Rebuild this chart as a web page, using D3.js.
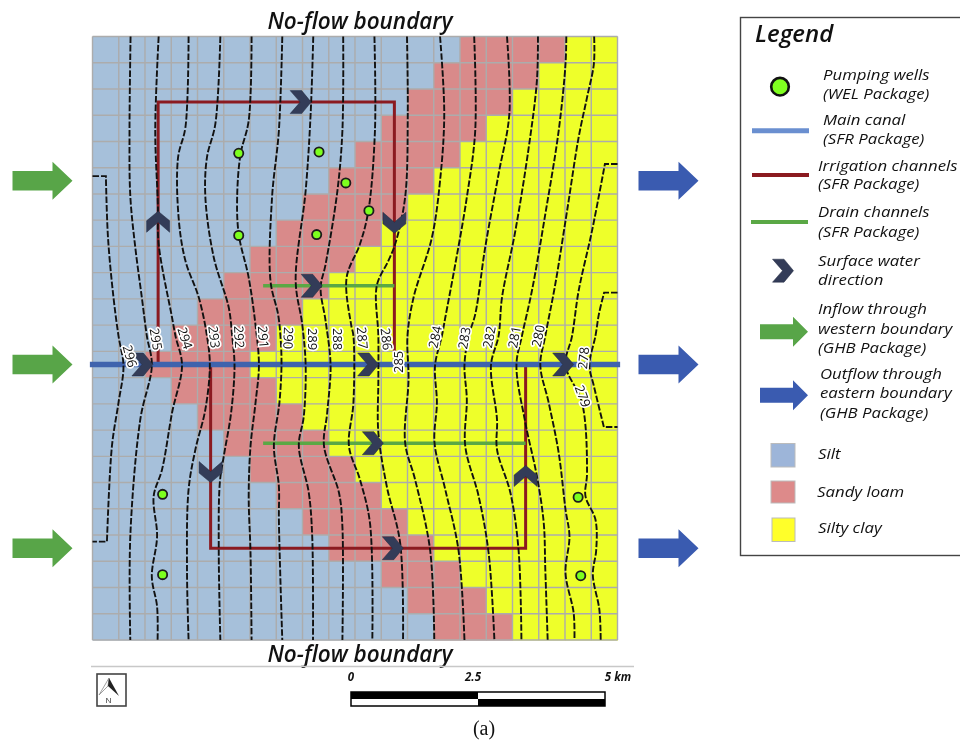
<!DOCTYPE html>
<html>
<head>
<meta charset="utf-8">
<script src="https://cdn.jsdelivr.net/npm/d3@7"></script>
<style>
html,body{margin:0;padding:0;background:#fff;}
svg{display:block;filter:blur(0.4px);}
text{font-family:"Open Sans",sans-serif;}
</style>
</head>
<body>
<svg id="chart" width="960" height="740"></svg>
<script>
// ---- data: grid units (column, row) of the model grid ----
const nCols = 20, nRows = 23;
// per row: first column that is no longer silt, first column that is silty clay
const siltEnd = [14,13,12,11,10,9,8,7,6,5,4,3,2,3,4,5,6,7,8,9,11,12,13];
const loamEnd = [18,17,16,15,14,13,12,11,10,9,8,7,6,7,8,9,10,11,12,13,14,15,16];

const levels = [296,295,294,293,292,291,290,289,288,287,286,285,284,283,282,281,280,279,278];
const c296 = [[0,5.32],[0.51,5.32],[0.59,7.66],[0.80,9.95],[0.99,11.41],[1.18,12.56],[0.99,13.96],[0.74,15.61],[0.55,19.25],[0,19.25]];
const c295 = [[1.45,0],[1.41,3.59],[1.44,6.08],[1.63,8.04],[1.88,9.95],[2.07,11.41],[2.26,12.53],[1.82,14.6],[1.44,19.05],[1.44,23]];
const c294 = [[2.52,0],[2.39,3.59],[2.49,6.39],[2.52,7.91],[3.03,10.71],[3.16,11.41],[3.41,12.53],[3.03,14.34],[2.65,16.5],[2.33,17.52],[2.46,19.05],[2.26,20.58],[2.46,21.72],[2.48,23]];
const c293 = [[3.66,0],[3.54,3.46],[3.26,4.61],[3.28,6.9],[3.54,8.55],[4.05,9.95],[4.36,11.41],[4.47,12.53],[4.3,14.21],[3.92,15.74],[3.66,17.27],[3.6,20.32],[3.66,23]];
const c292 = [[4.87,0],[4.68,3.33],[4.36,4.61],[4.3,6.13],[4.62,8.42],[5.19,10.33],[5.32,11.41],[5.41,12.53],[5.28,14.34],[5.0,16.0],[4.85,17.01],[4.81,19.68],[4.87,23]];
const c291 = [[6.06,0],[5.95,3.21],[5.64,4.48],[5.51,6.13],[5.57,7.53],[5.95,9.19],[6.21,11.0],[6.34,12.53],[6.21,13.96],[6.02,15.61],[5.95,17.52],[6.02,19.68],[6.06,23]];
const c290 = [[7.23,0],[7.1,3.59],[6.84,6.13],[6.78,9.31],[7.07,10.59],[7.16,11.41],[7.2,12.53],[7.12,13.96],[6.91,15.61],[7.1,17.14],[7.1,18.41],[7.23,23]];
const c289 = [[8.41,0],[8.31,2.95],[8.12,5.88],[7.74,9.31],[7.99,10.97],[8.12,12.53],[8.05,14.47],[7.86,15.61],[8.24,17.39],[8.37,19.05],[8.4,23]];
const c288 = [[9.55,0],[9.52,3.59],[9.33,5.88],[8.88,8.68],[8.69,9.57],[8.88,10.84],[9.07,12.53],[8.94,14.34],[8.82,15.61],[9.39,17.39],[9.52,18.67],[9.52,23]];
const c287 = [[10.74,0],[10.76,3.59],[10.51,6.64],[10.19,7.91],[9.68,9.19],[9.85,10.97],[9.94,11.41],[9.94,13.96],[9.77,15.61],[10.19,16.89],[10.57,18.54],[10.66,23]];
const c286 = [[11.98,0],[12.01,2.95],[11.91,6.13],[11.53,7.91],[11.27,8.55],[10.83,9.5],[10.89,11.41],[10.89,13.07],[10.89,15.1],[11.21,17.14],[11.72,19.3],[11.83,23]];
const c285 = [[13.24,0],[13.4,2.95],[13.24,5.5],[12.93,7.66],[12.23,9.95],[12.0,11.41],[12.04,13.07],[11.91,15.48],[12.29,16.89],[12.86,19.56],[13.02,23]];
const c284 = [[14.54,0],[14.58,3.59],[14.26,6.13],[13.82,8.68],[13.44,10.71],[13.31,11.41],[13.05,12.53],[13.12,13.96],[13.03,15.49],[13.44,17.27],[13.94,19.56],[14.17,23]];
const c283 = [[15.79,0],[15.88,2.95],[15.47,5.24],[14.96,8.04],[14.58,10.59],[14.33,11.41],[14.17,12.53],[14.26,13.83],[14.2,15.61],[14.71,17.52],[15.09,19.68],[15.31,23]];
const c282 = [[16.97,0],[16.93,1.68],[16.62,4.22],[16.11,7.4],[15.6,9.95],[15.47,11.41],[15.18,12.53],[15.41,14.6],[15.41,15.74],[15.92,17.39],[16.23,19.56],[16.34,23]];
const c281 = [[18.05,0],[18.02,1.04],[17.76,3.59],[17.25,6.77],[16.74,9.69],[16.36,11.41],[16.15,12.53],[16.49,14.72],[16.93,16.76],[17.19,18.54],[17.25,20.32],[17.34,23]];
const c280 = [[19.11,0],[19.1,1.04],[18.84,2.32],[18.52,3.84],[18.08,6.64],[17.63,9.44],[17.25,11.41],[17.06,12.53],[17.38,13.96],[17.76,15.87],[18.02,18.03],[18.17,19.05],[18.02,20.45],[18.33,21.97],[18.36,23]];
const c279 = [[20,4.86],[19.52,4.86],[19.03,7.4],[18.52,9.69],[18.27,11.41],[18.02,12.53],[18.65,13.96],[18.84,16.63],[18.78,17.52],[19.16,18.41],[19.19,19.56],[19.06,20.51],[19.31,21.85],[19.36,23]];
const c278 = [[20,9.76],[19.49,9.76],[19.29,10.59],[19.16,11.41],[18.93,12.53],[19.1,13.32],[19.48,14.88],[20,14.88]];
const contours = [c296,c295,c294,c293,c292,c291,c290,c289,c288,c287,c286,c285,c284,c283,c282,c281,c280,c279,c278];

const labelCol = [1.44,2.43,3.54,4.65,5.6,6.52,7.47,8.39,9.34,10.29,11.21,11.63,13.04,14.15,15.1,16.06,16.97,18.69,18.69];
const labelRow = [12.18,11.53,11.49,11.45,11.45,11.45,11.49,11.53,11.53,11.49,11.53,12.4,11.45,11.49,11.45,11.45,11.41,13.7,12.25];
const labelAngle = [75,80,72,83,87,85,92,90,90,85,83,-90,-78,-80,-80,-80,-78,70,-85];

const wells = [[5.57,4.45],[8.63,4.40],[9.65,5.58],[10.53,6.64],[5.57,7.58],[8.54,7.55],[2.67,17.45],[2.67,20.51],[18.5,17.56],[18.6,20.55]];
const canal = [[-0.1,12.5],[20.1,12.5]];
const irrigation = [[[2.5,12.5],[2.5,2.5],[11.5,2.5],[11.5,12.5]],[[4.5,12.5],[4.5,19.5],[16.5,19.5],[16.5,12.5]]];
const drains = [[[6.5,9.5],[11.5,9.5]],[[6.5,15.5],[16.5,15.5]]];
const flowMarks = [[7.93,2.5,0],[2.5,7.06,-90],[11.5,7.1,90],[8.35,9.5,0],[1.9,12.5,0],[10.5,12.5,0],[17.93,12.5,0],[10.68,15.5,0],[4.5,16.6,90],[16.5,16.75,-90],[11.44,19.5,0]];
const boundaryRows = [5.5,12.5,19.5];

const scaleTicks = [0,2.5,5];
const scaleTickLabels = ["0","2.5","5 km"];

const colSilt="#a6c0da", colLoam="#d98a8a", colClay="#eeff2a", colGrid="#acacac";
const colChevron="#333c58", colIrr="#8b1a20", colCanal="#3f63ad", colDrain="#5aa845";
const colIn="#58a548", colOut="#3a5bb0";

// ---- scales ----
const x = d3.scaleLinear().domain([0,nCols]).range([92.5,617.5]);
const y = d3.scaleLinear().domain([0,nRows]).range([36.5,640]);
const svg = d3.select("#chart");
const lineGen = d3.line().x(d=>x(d[0])).y(d=>y(d[1]));

// ---- zones ----
const zones = svg.append("g");
d3.range(nRows).forEach(r=>{
  d3.range(nCols).forEach(c=>{
    zones.append("rect").attr("x",x(c)).attr("y",y(r))
      .attr("width",x(1)-x(0)+0.5).attr("height",y(1)-y(0)+0.5)
      .attr("fill", c<siltEnd[r]?colSilt:(c<loamEnd[r]?colLoam:colClay));
  });
});
const grid = svg.append("g").attr("stroke",colGrid).attr("stroke-width",1.4);
d3.range(nCols+1).forEach(c=>grid.append("line").attr("x1",x(c)).attr("x2",x(c)).attr("y1",y(0)).attr("y2",y(nRows)));
d3.range(nRows+1).forEach(r=>grid.append("line").attr("y1",y(r)).attr("y2",y(r)).attr("x1",x(0)).attr("x2",x(nCols)));

// ---- channels ----
irrigation.forEach(p=>svg.append("path").attr("d",lineGen(p)).attr("fill","none").attr("stroke",colIrr).attr("stroke-width",3));
drains.forEach(p=>svg.append("path").attr("d",lineGen(p)).attr("fill","none").attr("stroke",colDrain).attr("stroke-width",3.5));
svg.append("path").attr("d",lineGen(canal)).attr("fill","none").attr("stroke",colCanal).attr("stroke-width",5.5);

// ---- contours: smooth, except the straight stubs where a line leaves the map side ----
const curve = d3.line().x(d=>x(d[0])).y(d=>y(d[1])).curve(d3.curveCatmullRom.alpha(0.5));
function contourPath(p){
  let start=0, end=p.length;
  if(p[0][1]===p[1][1]) start=1;
  if(p[end-1][1]===p[end-2][1]) end=end-1;
  let d=curve(p.slice(start,end));
  if(start===1) d=`M${x(p[0][0])},${y(p[0][1])}L`+d.slice(1);
  if(end<p.length) d+=`L${x(p[end][0])},${y(p[end][1])}`;
  return d;
}
svg.append("g").selectAll("path").data(contours).join("path")
  .attr("d",contourPath).attr("fill","none").attr("stroke","#111").attr("stroke-width",1.9).attr("stroke-dasharray","6.5 2");

// ---- chevrons ----
const chevronPath = "M-10.5,-11.5L1,-11.5L10.5,0L1,11.5L-10.5,11.5L-0.5,0Z";
function chevron(g,px,py,rot){
  g.append("path").attr("d",chevronPath).attr("transform",`translate(${px},${py}) rotate(${rot})`)
    .attr("fill",colChevron).attr("stroke","#222a40").attr("stroke-width",0.5);
}
flowMarks.forEach(m=>chevron(svg,x(m[0]),y(m[1]),m[2]));

// ---- wells ----
svg.append("g").selectAll("circle").data(wells).join("circle")
  .attr("cx",d=>x(d[0])).attr("cy",d=>y(d[1])).attr("r",4.6)
  .attr("fill","#7dff1e").attr("stroke","#1c1c1c").attr("stroke-width",1.8);

// ---- contour labels ----
svg.append("g").selectAll("text").data(levels).join("text")
  .attr("transform",(d,i)=>`translate(${x(labelCol[i])},${y(labelRow[i])}) rotate(${labelAngle[i]})`)
  .attr("text-anchor","middle").attr("dominant-baseline","central")
  .attr("font-size",13).attr("fill","#111")
  .attr("paint-order","stroke").attr("stroke","#fff").attr("stroke-width",3.4).attr("stroke-linejoin","round")
  .text(d=>d);

// ---- boundary arrows ----
function blockArrow(g,x0,cy,len,headLen,bodyH,headH,fill){
  const x1=x0+len-headLen,x2=x0+len;
  g.append("path").attr("d",`M${x0},${cy-bodyH/2}L${x1},${cy-bodyH/2}L${x1},${cy-headH/2}L${x2},${cy}L${x1},${cy+headH/2}L${x1},${cy+bodyH/2}L${x0},${cy+bodyH/2}Z`).attr("fill",fill);
}
boundaryRows.forEach(r=>{
  blockArrow(svg,12.5,y(r),60,20,19.5,38,colIn);
  blockArrow(svg,638.5,y(r),60,20,19.5,38,colOut);
});

// ---- titles ----
function italic(g,t,px,py,size,opts={}){
  return g.append("text").attr("x",px).attr("y",py).attr("font-size",size).attr("font-style","italic")
    .attr("font-weight",opts.w||400).attr("text-anchor",opts.a||"start").attr("fill",opts.f||"#111").text(t);
}
italic(svg,"No-flow boundary",360,29,22.5,{a:"middle",w:600});
italic(svg,"No-flow boundary",360,662,22.5,{a:"middle",w:600});
svg.append("line").attr("x1",91).attr("x2",634).attr("y1",666.5).attr("y2",666.5).attr("stroke","#c8c8c8").attr("stroke-width",1.5);

// ---- north arrow ----
const na = svg.append("g");
na.append("rect").attr("x",97).attr("y",674).attr("width",29).attr("height",32).attr("fill","#fff").attr("stroke","#444").attr("stroke-width",1.6);
na.append("path").attr("d","M109,678L99,695L108,686Z").attr("fill","#fff").attr("stroke","#888").attr("stroke-width",0.8);
na.append("path").attr("d","M109,678L119,696L108,686Z").attr("fill","#222");
na.append("text").attr("x",108.5).attr("y",703).attr("text-anchor","middle").attr("font-size",8).attr("fill","#222").text("N");

// ---- scale bar ----
const km = d3.scaleLinear().domain([0,5]).range([351,605]);
const sb = svg.append("g");
sb.append("rect").attr("x",km(0)).attr("y",692).attr("width",km(2.5)-km(0)).attr("height",7).attr("fill","#000");
sb.append("rect").attr("x",km(2.5)).attr("y",692).attr("width",km(5)-km(2.5)).attr("height",7).attr("fill","#fff");
sb.append("rect").attr("x",km(0)).attr("y",699).attr("width",km(2.5)-km(0)).attr("height",7).attr("fill","#fff");
sb.append("rect").attr("x",km(2.5)).attr("y",699).attr("width",km(5)-km(2.5)).attr("height",7).attr("fill","#000");
sb.append("rect").attr("x",km(0)).attr("y",692).attr("width",km(5)-km(0)).attr("height",14).attr("fill","none").attr("stroke","#000").attr("stroke-width",1.5);
const scaleShift=[0,-5,13];
scaleTicks.forEach((t,i)=>italic(sb,scaleTickLabels[i],km(t)+scaleShift[i],681,11.5,{a:"middle",w:700}));

// ---- caption ----
svg.append("text").attr("x",484).attr("y",735).attr("text-anchor","middle").attr("font-size",20)
  .style("font-family","'Liberation Serif',serif").attr("fill","#111").text("(a)");

// ---- legend ----
const lg = svg.append("g");
lg.append("rect").attr("x",740.5).attr("y",17.5).attr("width",240).attr("height",538).attr("fill","#fff").attr("stroke","#444").attr("stroke-width",1.4);
italic(lg,"Legend",755,42,24,{w:600});
lg.append("circle").attr("cx",780).attr("cy",86.7).attr("r",8.8).attr("fill","#80ff20").attr("stroke","#111").attr("stroke-width",2.6);
const legendLines = [[752,809,130.7,"#6a8fd0",5],[752,809,175,colIrr,4],[751,808,222,colDrain,4]];
legendLines.forEach(l=>lg.append("line").attr("x1",l[0]).attr("x2",l[1]).attr("y1",l[2]).attr("y2",l[2]).attr("stroke",l[3]).attr("stroke-width",l[4]));
chevron(lg,783,270.7,0);
blockArrow(lg,760,331.7,48,15,15,30,colIn);
blockArrow(lg,760,395.3,48,15,15,30,colOut);
const swatches = [[771,443.5,24,23.5,"#9db5d9"],[771,481,24,22,"#dd8a8a"],[772,518,23,23.5,"#ffff2a"]];
swatches.forEach(s=>lg.append("rect").attr("x",s[0]).attr("y",s[1]).attr("width",s[2]).attr("height",s[3]).attr("fill",s[4]).attr("stroke","#bbb").attr("stroke-width",1));
// legend lines: the reference type is wide, so a 14px face is widened to the same line length
const legendText = [
 [823,80,"Pumping wells"],[823,99,"(WEL Package)"],
 [823,125,"Main canal"],[823,144,"(SFR Package)"],
 [818,170.5,"Irrigation channels"],[818,189,"(SFR Package)"],
 [818,217,"Drain channels"],[818,236.5,"(SFR Package)"],
 [818,266,"Surface water"],[818,285,"direction"],
 [818,314,"Inflow through"],[818,333.5,"western boundary"],[818,353,"(GHB Package)"],
 [820,379,"Outflow through"],[820,398,"eastern boundary"],[820,417.5,"(GHB Package)"],
 [818,459,"Silt"],[817,496.5,"Sandy loam"],[818,532.5,"Silty clay"]];
legendText.forEach(t=>{
  italic(lg,t[2],0,0,14).attr("transform",`translate(${t[0]},${t[1]}) scale(1.2,1)`);
});
</script>
</body>
</html>
